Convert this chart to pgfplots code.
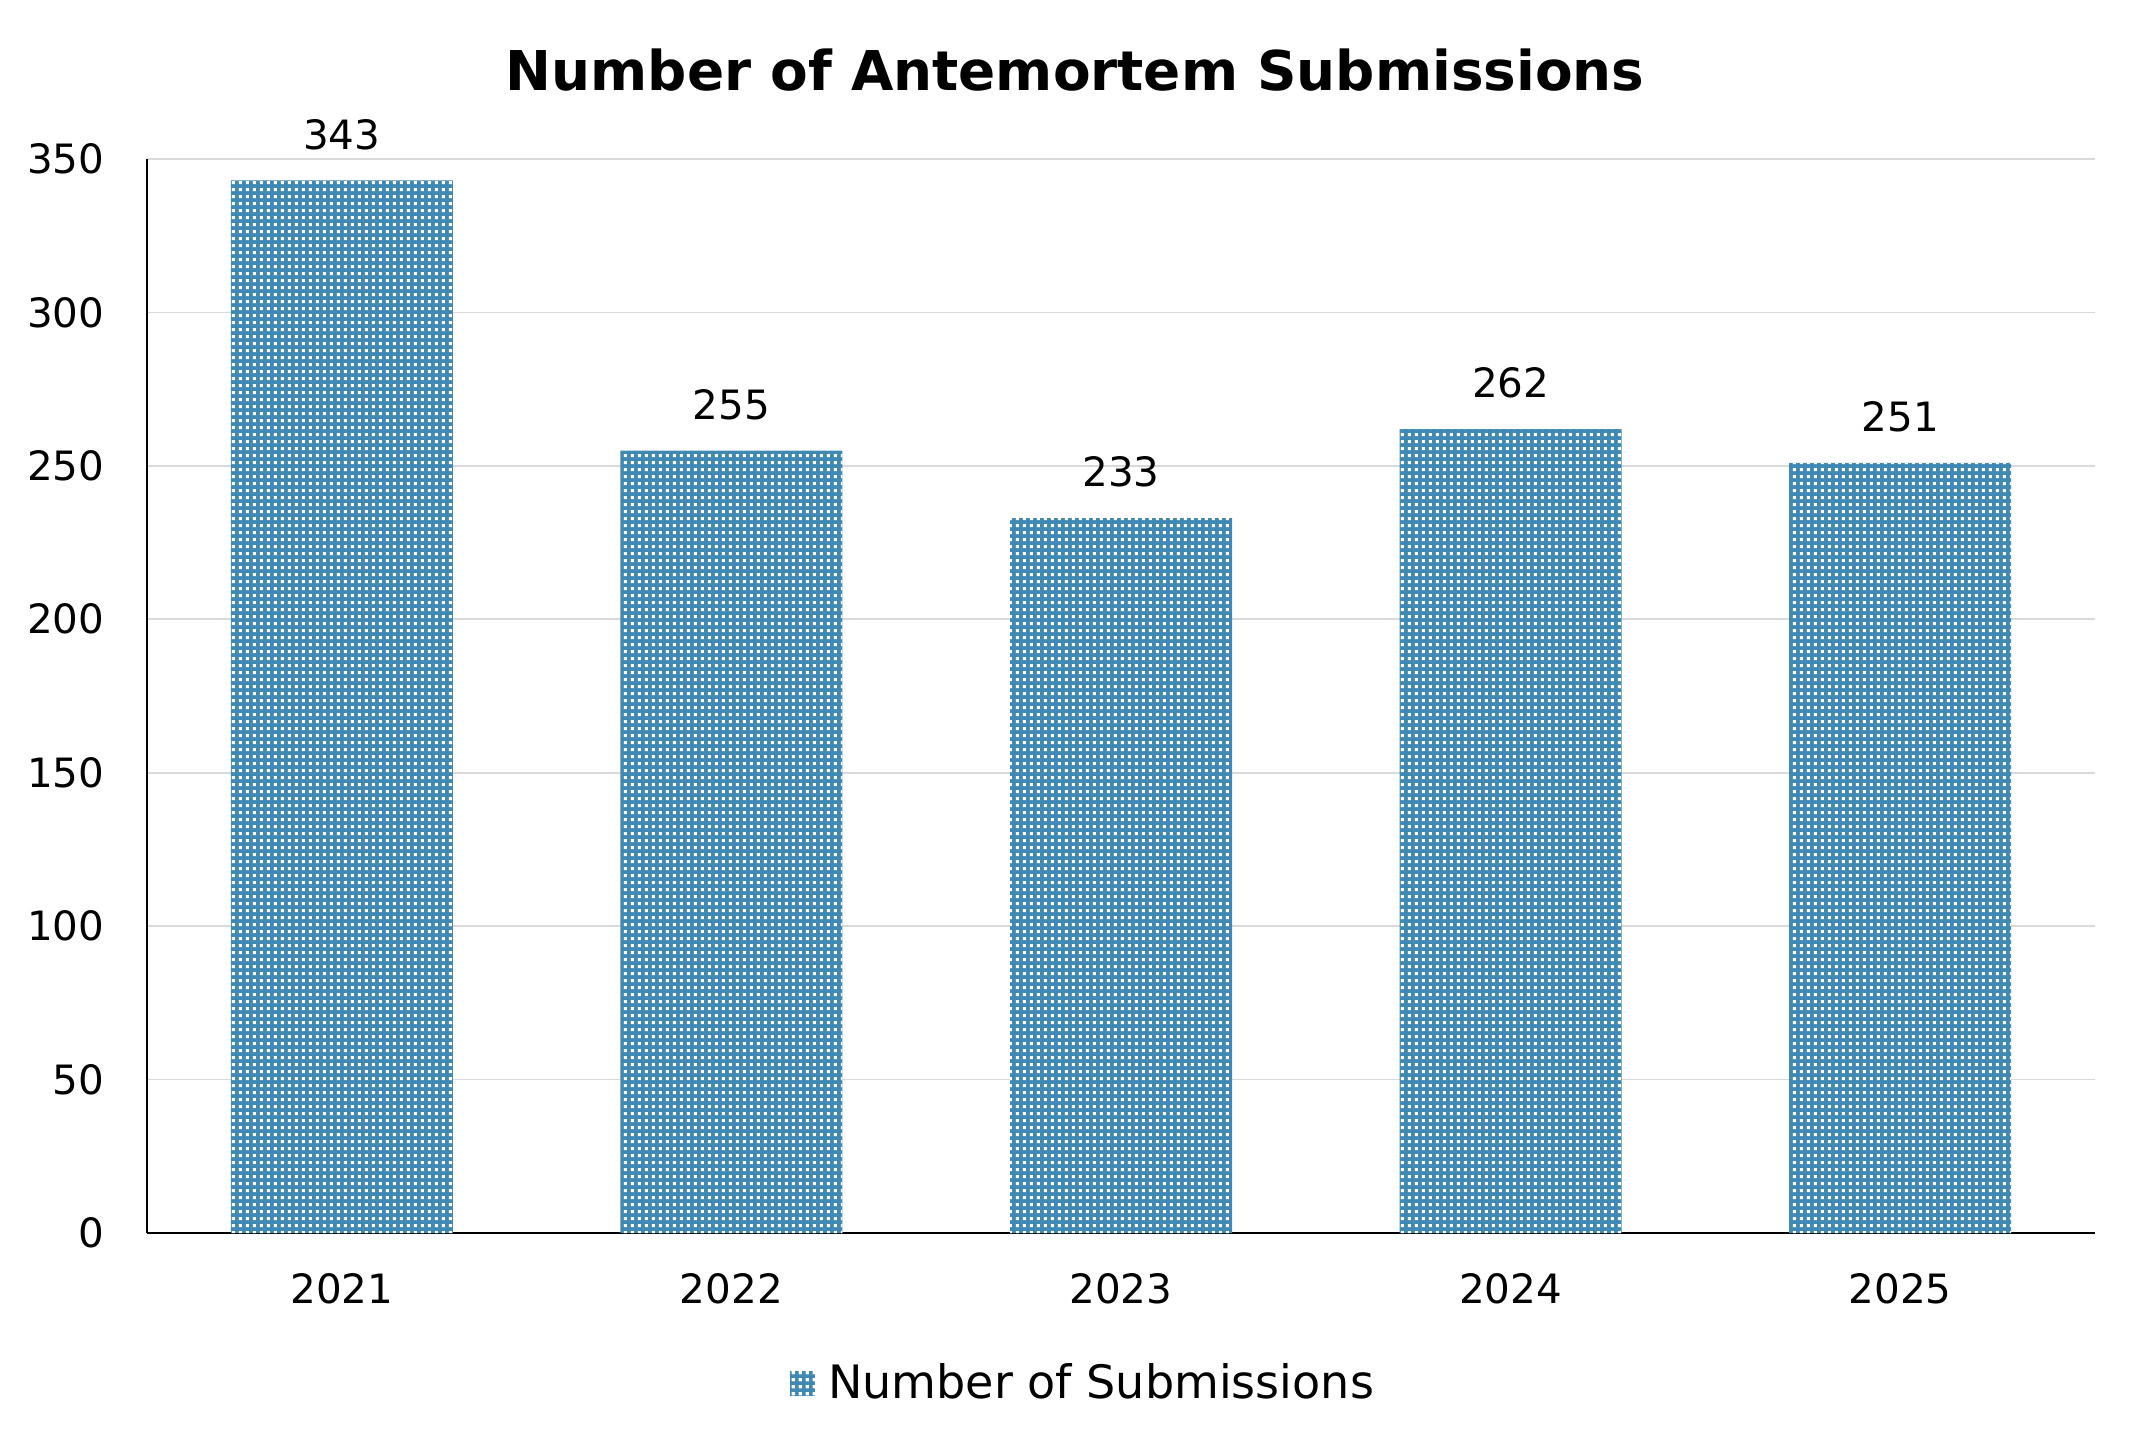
\documentclass[border=0pt]{standalone}
\usepackage{fontspec}
\setmainfont{DejaVu Sans}
\usepackage{pgfplots}
\usepackage{pgfplotstable}
\pgfplotsset{compat=1.18}
\usetikzlibrary{patterns}

\definecolor{barblue}{RGB}{65,137,181}
\definecolor{gridgray}{RGB}{217,217,217}

% white squares on the blue fill
\pgfdeclarepatternformonly{smallsquares}{\pgfpointorigin}{\pgfpoint{1.99pt}{1.99pt}}{\pgfpoint{1.99pt}{1.99pt}}{%
  \pgfpathrectangle{\pgfpoint{0.55pt}{0.55pt}}{\pgfpoint{0.85pt}{0.85pt}}%
  \pgfusepath{fill}}

\pgfplotstableread{
x year val
0 2021 343
1 2022 255
2 2023 233
3 2024 262
4 2025 251
}\subs

\begin{document}
\begin{tikzpicture}
\begin{axis}[
  scale only axis,
  width=19.48cm, height=10.74cm,
  xmin=-0.5, xmax=4.5,
  ymin=0, ymax=350,
  xtick={0,1,2,3,4},
  xticklabels={2021,2022,2023,2024,2025},
  ytick={0,50,...,350},
  axis lines*=left,
  axis line style={black, line width=0.5pt},
  major tick length=0pt,
  ymajorgrids,
  grid style={gridgray, line width=0.5pt},
  /pgf/number format/assume math mode=true,
  ticklabel style={font=\fontsize{11.5}{14}\selectfont},
  xticklabel style={anchor=north, inner sep=0pt, yshift=-0.40cm},
  yticklabel style={anchor=east, inner sep=0pt, xshift=-0.42cm},
  title={Number of Antemortem Submissions},
  title style={at={(0.4765,1)}, anchor=base, inner sep=0pt, yshift=0.47cm,
    font=\fontsize{15.6}{19}\selectfont\bfseries},
  ybar, bar width=2.22cm,
  nodes near coords,
  every node near coord/.append style={font=\fontsize{11.5}{14}\selectfont,
    anchor=south, inner sep=0pt, yshift=0.30cm, black},
  legend style={at={(0.480,-0.14)}, anchor=center, draw=none, fill=none,
    font=\fontsize{13.1}{16}\selectfont, nodes={inner sep=0pt},
    /tikz/every odd column/.append style={column sep=0.13cm}},
  legend image code/.code={
    \fill[barblue] (0cm,-0.125cm) rectangle (0.25cm,0.125cm);
    \fill[pattern=smallsquares, pattern color=white] (0cm,-0.125cm) rectangle (0.25cm,0.125cm);
  },
]
\addplot[fill=barblue, draw=none,
  postaction={pattern=smallsquares, pattern color=white}]
  table[x=x, y=val] {\subs};
\addlegendentry{Number of Submissions}
\end{axis}
\path (current axis.south west) ++(-1.47cm,-2.19cm) rectangle ++(21.45cm,14.52cm);
\end{tikzpicture}
\end{document}
